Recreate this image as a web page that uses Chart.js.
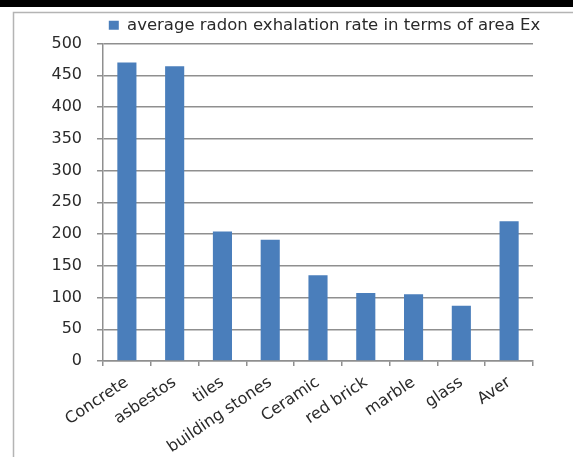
<!DOCTYPE html>
<html>
<head>
<meta charset="utf-8">
<script src="https://cdn.jsdelivr.net/npm/chart.js@4/dist/chart.umd.min.js"></script>
<style>
  html, body { margin: 0; padding: 0; background: #ffffff; }
  #wrap { position: relative; width: 573px; height: 457px; }
</style>
</head>
<body>
<div id="wrap"><canvas id="c" width="573" height="457"></canvas></div>
<script>
// Average radon exhalation rate per unit area, by building material
const categories = ['Concrete', 'asbestos', 'tiles', 'building stones', 'Ceramic', 'red brick', 'marble', 'glass', 'Aver'];
const exhalationRate = [470, 464, 204, 191, 135, 107, 105, 87, 220];
const seriesLabel = 'average radon exhalation rate in terms of area Ex';
const yMin = 0;
const yMax = 500;
const yStep = 50;

const axisGray = '#8f8f8f';
const textColor = '#2a2a2a';
const barBlue = '#4a7ebb';

// Page frame: dark strip across the top and thin grey border lines
const framePlugin = {
  id: 'frame',
  beforeDraw(chart) {
    const ctx = chart.ctx;
    ctx.save();
    ctx.fillStyle = '#ffffff';
    ctx.fillRect(0, 0, chart.width, chart.height);
    ctx.fillStyle = '#000000';
    ctx.fillRect(0, 0, chart.width, 7);
    ctx.strokeStyle = '#b4b4b4';
    ctx.lineWidth = 1.5;
    ctx.beginPath();
    ctx.moveTo(13.5, chart.height);
    ctx.lineTo(13.5, 12.5);
    ctx.lineTo(chart.width, 12.5);
    ctx.stroke();
    ctx.restore();
  }
};

// Nudge the legend to the right, over the plot area
const legendShift = {
  id: 'legendShift',
  afterLayout(chart) {
    const lg = chart.legend;
    if (lg) { lg.left += 58; lg.right += 58; }
  }
};

new Chart(document.getElementById('c'), {
  type: 'bar',
  data: {
    labels: categories,
    datasets: [{
      label: seriesLabel,
      data: exhalationRate,
      backgroundColor: barBlue,
      borderWidth: 0,
      barPercentage: 0.4,
      categoryPercentage: 1.0
    }]
  },
  options: {
    responsive: false,
    animation: false,
    devicePixelRatio: 1,
    layout: { padding: { left: 0, right: 40, top: 8, bottom: 0 } },
    plugins: {
      legend: {
        display: true,
        position: 'top',
        labels: {
          boxWidth: 10,
          boxHeight: 9,
          padding: 9,
          color: textColor,
          font: { family: 'DejaVu Sans', size: 16.5 }
        }
      },
      tooltip: { enabled: false }
    },
    scales: {
      x: {
        afterFit(scale) { scale.height = 96; },
        grid: {
          offset: true,
          drawOnChartArea: false,
          drawTicks: true,
          tickLength: 5,
          color: axisGray,
          lineWidth: 1.5
        },
        border: { display: true, color: axisGray, width: 1.5 },
        ticks: {
          minRotation: 34,
          maxRotation: 34,
          autoSkip: false,
          padding: 7,
          color: textColor,
          font: { family: 'DejaVu Sans', size: 16 }
        }
      },
      y: {
        min: yMin,
        max: yMax,
        afterFit(scale) { scale.width = 103; },
        grid: {
          color: axisGray,
          lineWidth: 1.5,
          drawTicks: true,
          tickLength: 6
        },
        border: { display: true, color: axisGray, width: 1.5 },
        ticks: {
          stepSize: yStep,
          padding: 15,
          color: textColor,
          font: { family: 'DejaVu Sans', size: 16 }
        }
      }
    }
  },
  plugins: [framePlugin, legendShift]
});
</script>
</body>
</html>
